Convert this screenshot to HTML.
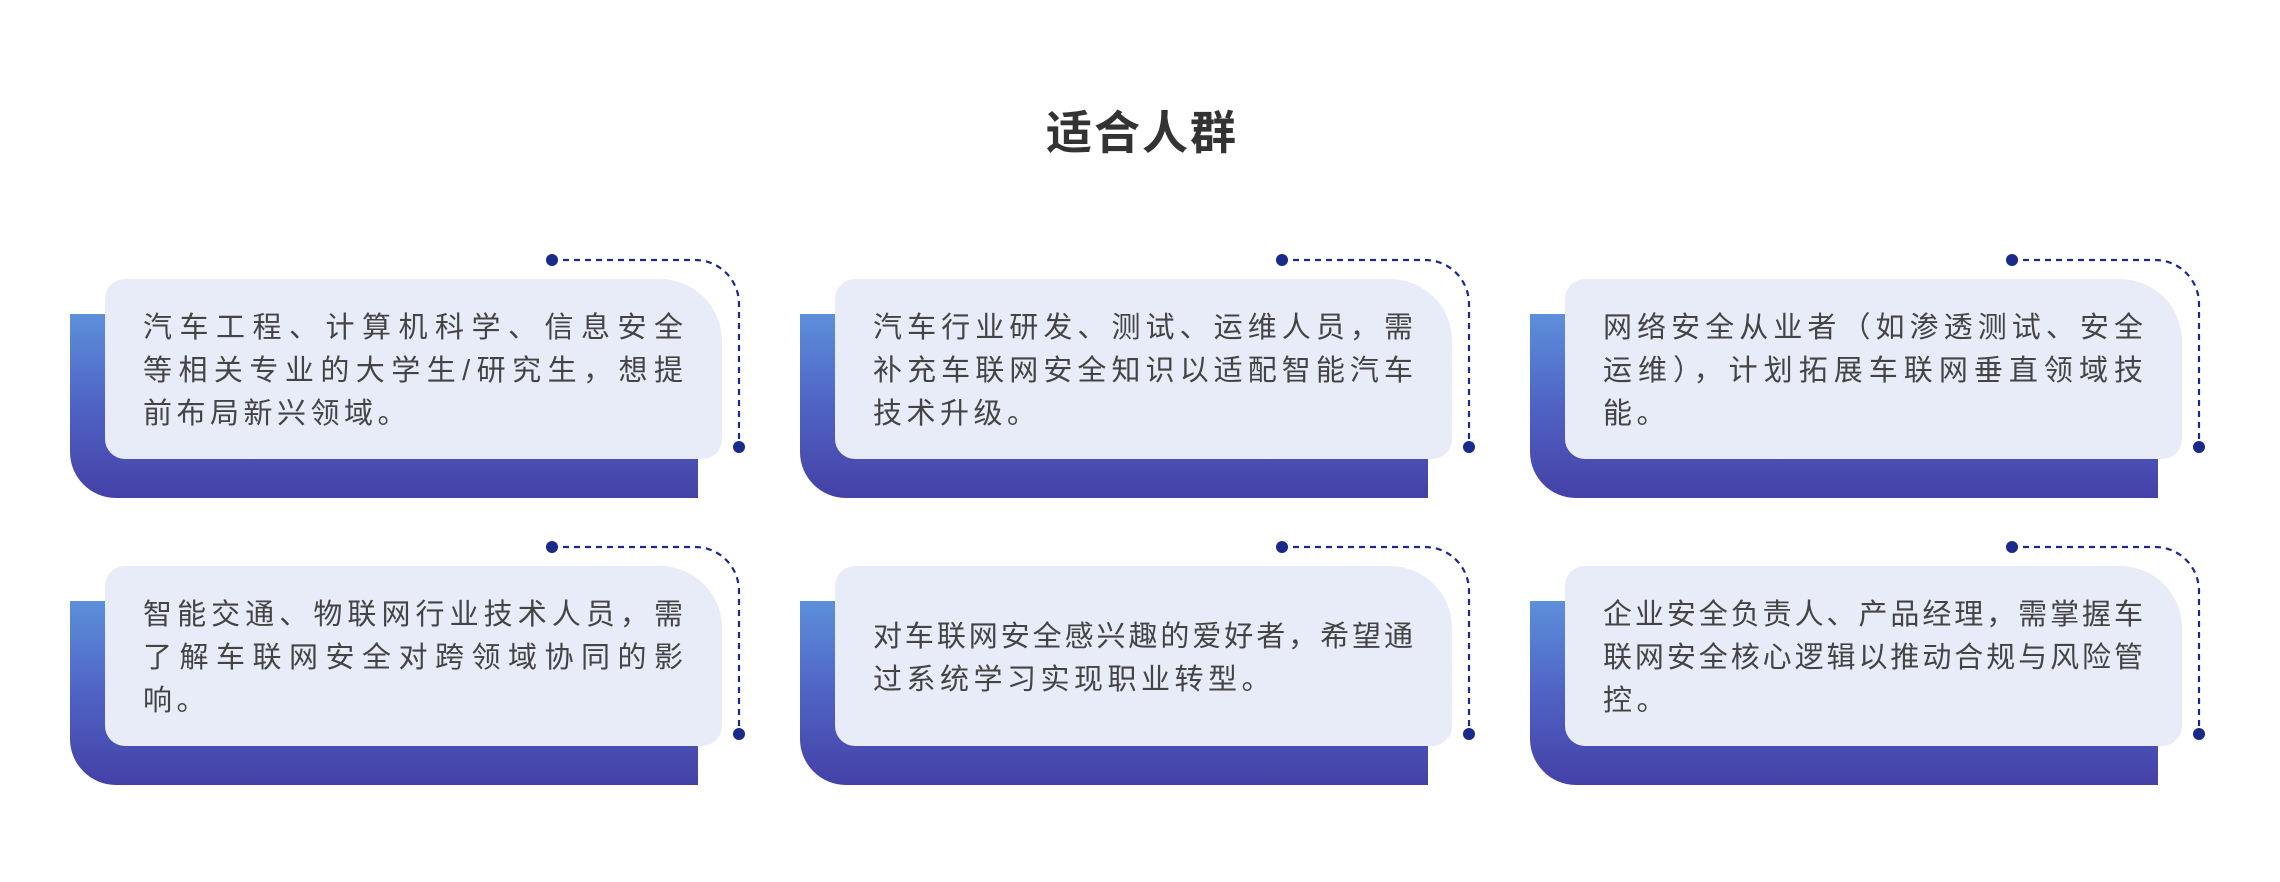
<!DOCTYPE html>
<html><head><meta charset="utf-8"><style>
html,body{margin:0;padding:0;background:#fff;}
body{width:2280px;height:882px;position:relative;overflow:hidden;font-family:"Liberation Sans","Noto Sans CJK SC",sans-serif;}
.title{position:absolute;left:0;width:2284px;top:103px;text-align:center;font-size:46px;font-weight:bold;color:#333;line-height:60px;letter-spacing:2px;}
.back{position:absolute;width:628px;height:184px;background:linear-gradient(180deg,#5d8fdc 0%,#4f63c4 50%,#4440a6 100%);border-radius:0 0 0 46px;}
.front{position:absolute;width:617px;height:180px;background:#e8ecf8;border-radius:20px 62px 20px 20px;display:flex;flex-direction:column;justify-content:center;box-sizing:border-box;padding-left:38px;padding-top:5px;}
.front div{font-size:29px;line-height:43px;color:#444;letter-spacing:4.5px;white-space:nowrap;width:540px;}
.front div.j{text-align:justify;text-align-last:justify;letter-spacing:0;}
svg{position:absolute;left:0;top:0;}
</style></head><body>
<div class="title">适合人群</div>

<div class="back" style="left:70px;top:314px"></div>
<div class="front" style="left:105px;top:279px"><div class="j">汽车工程、计算机科学、信息安全</div><div class="j">等相关专业的大学生/研究生，想提</div><div>前布局新兴领域。</div></div>

<div class="back" style="left:800px;top:314px"></div>
<div class="front" style="left:835px;top:279px"><div class="j">汽车行业研发、测试、运维人员，需</div><div class="j">补充车联网安全知识以适配智能汽车</div><div>技术升级。</div></div>

<div class="back" style="left:1530px;top:314px"></div>
<div class="front" style="left:1565px;top:279px"><div class="j">网络安全从业者（如渗透测试、安全</div><div class="j">运维），计划拓展车联网垂直领域技</div><div>能。</div></div>

<div class="back" style="left:70px;top:601px"></div>
<div class="front" style="left:105px;top:566px"><div class="j">智能交通、物联网行业技术人员，需</div><div class="j">了解车联网安全对跨领域协同的影</div><div>响。</div></div>

<div class="back" style="left:800px;top:601px"></div>
<div class="front" style="left:835px;top:566px"><div class="j">对车联网安全感兴趣的爱好者，希望通</div><div>过系统学习实现职业转型。</div></div>

<div class="back" style="left:1530px;top:601px"></div>
<div class="front" style="left:1565px;top:566px"><div class="j">企业安全负责人、产品经理，需掌握车</div><div class="j">联网安全核心逻辑以推动合规与风险管</div><div>控。</div></div>

<svg width="2280" height="882">
<defs><g id="c">
<path d="M552,260 H695 A44,44 0 0 1 739,304 V447" fill="none" stroke="#1a2a8a" stroke-width="2.2" stroke-dasharray="6 5"/>
<circle cx="552" cy="260" r="6" fill="#1a2a8a"/>
<circle cx="739" cy="447" r="6" fill="#1a2a8a"/>
</g></defs>
<use href="#c"/>
<use href="#c" transform="translate(730,0)"/>
<use href="#c" transform="translate(1460,0)"/>
<use href="#c" transform="translate(0,287)"/>
<use href="#c" transform="translate(730,287)"/>
<use href="#c" transform="translate(1460,287)"/>
</svg>
</body></html>
